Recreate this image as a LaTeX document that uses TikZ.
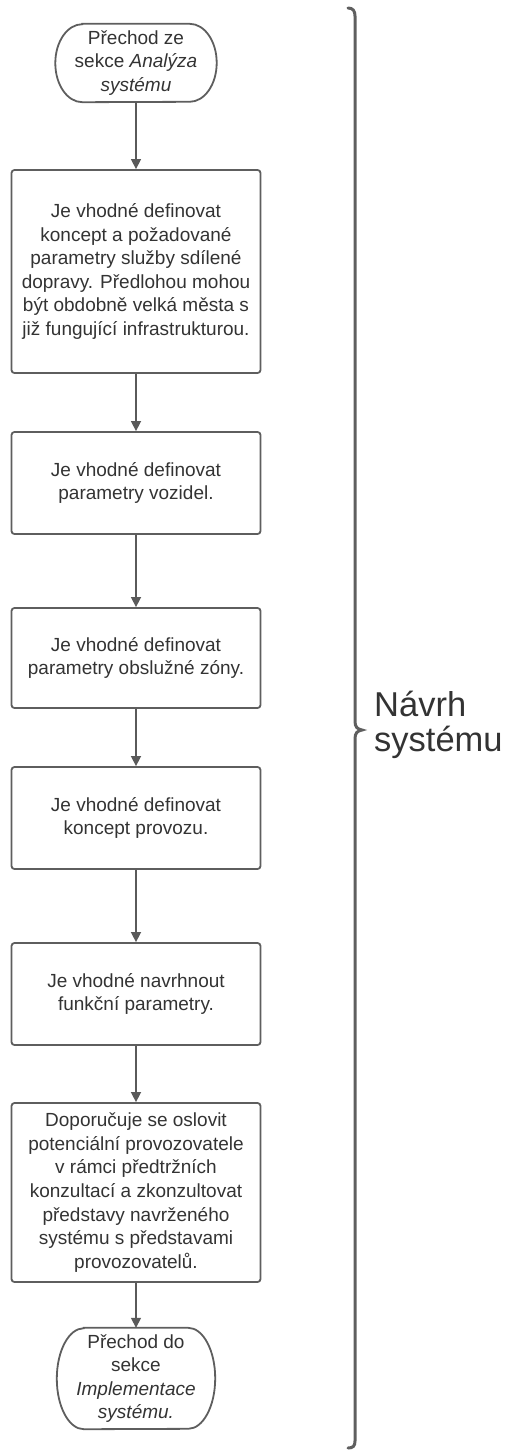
\documentclass[tikz,border=0pt]{standalone}
\usepackage{fontspec}
\setmainfont{Liberation Sans}
\usetikzlibrary{arrows.meta}

\definecolor{textgray}{HTML}{333333}
\definecolor{linegray}{HTML}{5E5E5E}
\definecolor{arrowgray}{HTML}{5A5A5A}
\definecolor{bracegray}{HTML}{5F5F5F}

\newcommand{\boxfont}{\fontsize{19}{23.6}\selectfont}
\newcommand{\bigfont}{\fontsize{34.5}{35.5}\selectfont}

% stadium-like terminator with elliptical ends
\newcommand{\terminator}[3]{% node name, horizontal radius, vertical radius
  \draw[termline] ([xshift=#2]#1.north west) -- ([xshift=-#2]#1.north east)
    arc[start angle=90, end angle=-90, x radius=#2, y radius=#3]
    -- ([xshift=#2]#1.south west)
    arc[start angle=270, end angle=90, x radius=#2, y radius=#3] -- cycle;}

\begin{document}
\begin{tikzpicture}[x=1pt, y=1pt,
  stepbox/.style={draw=linegray, line width=1.8pt, rounded corners=3pt,
    minimum width=249pt, align=center, text=textgray, font=\boxfont, inner sep=0pt},
  termnode/.style={align=center, text=textgray, font=\boxfont, inner sep=0pt},
  termline/.style={draw=linegray, line width=1.8pt},
  flow/.style={draw=arrowgray, line width=1.5pt, -{Triangle[length=10pt, width=10pt]}},
  bracket/.style={draw=bracegray, line width=3pt, line cap=round}]

\useasboundingbox (0,0) rectangle (509,-1450);

% terminators and process steps
\node[termnode, minimum width=161pt, minimum height=78pt] (start) at (136,-63)
  {Přechod ze\\sekce \textit{Analýza}\\\textit{systému}};
\terminator{start}{27pt}{39pt}

\node[stepbox, minimum height=203pt] (b1) at (136,-271.5)
  {Je vhodné definovat\\koncept a požadované\\parametry služby sdílené\\dopravy. Předlohou mohou\\být obdobně velká města s\\již fungující infrastrukturou.};

\node[stepbox, minimum height=102pt] (b2) at (136,-483)
  {Je vhodné definovat\\parametry vozidel.};

\node[stepbox, minimum height=100pt] (b3) at (136,-658)
  {Je vhodné definovat\\parametry obslužné zóny.};

\node[stepbox, minimum height=102pt] (b4) at (136,-818)
  {Je vhodné definovat\\koncept provozu.};

\node[stepbox, minimum height=102pt] (b5) at (136,-994)
  {Je vhodné navrhnout\\funkční parametry.};

\node[stepbox, minimum height=179pt] (b6) at (136,-1192.5)
  {Doporučuje se oslovit\\potenciální provozovatele\\v rámci předtržních\\konzultací a zkonzultovat\\představy navrženého\\systému s představami\\provozovatelů.};

\node[termnode, minimum width=158pt, minimum height=101pt] (end) at (136,-1378.5)
  {Přechod do\\sekce\\\textit{Implementace}\\\textit{systému.}};
\terminator{end}{27pt}{50.5pt}

% connectors
\draw[flow] (start) -- (b1);
\draw[flow] (b1) -- (b2);
\draw[flow] (b2) -- (b3);
\draw[flow] (b3) -- (b4);
\draw[flow] (b4) -- (b5);
\draw[flow] (b5) -- (b6);
\draw[flow] (b6) -- (end);

% curly brace spanning the whole flow
\draw[bracket] (348,-8) .. controls (353,-8) and (355,-11) .. (355,-16)
  -- (355,-721) .. controls (355,-727) and (357,-729) .. (362,-730)
  .. controls (357,-731) and (355,-733) .. (355,-739)
  -- (355,-1441) .. controls (355,-1446) and (353,-1448) .. (348,-1448);

\node[anchor=west, align=left, text=textgray, font=\bigfont, inner sep=0pt] (label) at (374,-725)
  {Návrh\\systému};
\end{tikzpicture}
\end{document}
